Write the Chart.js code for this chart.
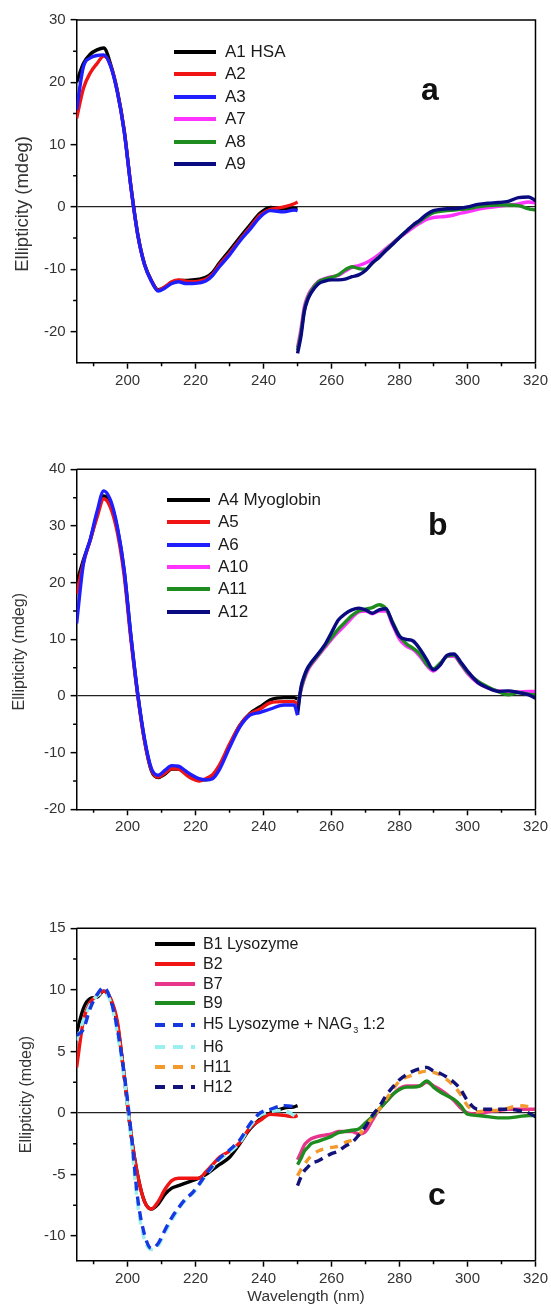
<!DOCTYPE html>
<html><head><meta charset="utf-8">
<script src="https://cdn.jsdelivr.net/npm/chart.js@4"></script>
<style>
html,body{margin:0;padding:0;background:#fff;}
body{width:551px;height:1306px;position:relative;overflow:hidden;font-family:Arial,"Liberation Sans",sans-serif;}
.pane{position:absolute;left:0;width:551px;}
.legend{position:absolute;color:#1a1a1a;}
.row{display:flex;align-items:center;white-space:nowrap;}
.key{height:4px;flex:none;}
.tag{position:absolute;font-weight:bold;font-size:32px;color:#111;line-height:1;}
sub{font-size:9px;vertical-align:-4px;margin-left:1px;}
</style></head><body>
<div class="pane" style="top:0;height:400px"><canvas id="ca" width="551" height="400"></canvas></div>
<div class="pane" style="top:440px;height:400px"><canvas id="cb" width="551" height="400"></canvas></div>
<div class="pane" style="top:900px;height:406px"><canvas id="cc" width="551" height="406"></canvas></div>
<div class="tag" style="left:421px;top:73px">a</div>
<div class="tag" style="left:428px;top:508px">b</div>
<div class="tag" style="left:428px;top:1178px">c</div>
<div id="la" class="legend"></div>
<div id="lb" class="legend"></div>
<div id="lc" class="legend"></div>
<script>
// ---------- data ----------
const wlFar  = [185,187,189,191,193,195,197,199,201,203,205,207,209,211,213,215,217,219,221,223,225,227,230,233,236,239,242,246,249,250];
const wlNear = [250,251,252,253,254,256,258,260,262,264,266,268,270,272,274,276,278,280,282,284,286,288,290,292,294,296,298,300,303,306,309,312,315,318,320];

const xTicks = [200,220,240,260,280,300,320];
const xMinor = [190,210,230,250,270,290,310];
const yTicksA = [-20,-10,0,10,20,30];
const yMinorA = [-15,-5,5,15,25];
const yTicksB = [-20,-10,0,10,20,30,40];
const yMinorB = [-15,-5,5,15,25,35];
const yTicksC = [-10,-5,0,5,10,15];
const yMinorC = [-7.5,-2.5,2.5,7.5,12.5];

// panel a
const labelsA = ['A1 HSA','A2','A3','A7','A8','A9'];
const A1 = [20.0,23.0,24.5,25.2,25.5, 22.9,18.6,12.3,3.2,-4.4, -9.2,-11.8,-13.3,-12.9,-12.1, -11.8,-11.8,-11.7,-11.6,-11.3, -10.5,-9.0,-7.0,-4.9,-2.9, -1.0,-0.1,-0.3,-0.3,-0.3];
const A2 = [14.2,19.0,21.5,23.0,24.2, 22.7,18.5,12.2,3.1,-4.5, -9.3,-11.9,-13.4,-12.8,-12.0, -11.7,-11.9,-12.0,-11.9,-11.6, -10.8,-9.3,-7.4,-5.3,-3.3, -1.3,-0.4,0.0,0.5,0.8];
const A3 = [15.6,22.5,23.9,24.3,24.4, 22.6,18.4,12.1,3.1,-4.5, -9.3,-11.9,-13.5,-13.0,-12.3, -12.0,-12.3,-12.3,-12.2,-11.9, -11.0,-9.6,-7.7,-5.5,-3.6, -1.6,-0.6,-0.8,-0.5,-0.6];
const A7 = [-22.6,-19.6,-16.0,-14.3,-13.3, -12.0,-11.5,-11.2,-11.0,-10.3, -9.7,-9.4,-9.0,-8.4,-7.6, -6.7,-5.8,-4.9,-4.1,-3.3, -2.6,-2.0,-1.7,-1.6,-1.5, -1.3,-1.0,-0.8,-0.4,-0.1, 0.1,0.3,0.5,0.8,0.6];
const A8 = [-23.0,-20.2,-16.5,-14.6,-13.5, -12.1,-11.6,-11.3,-10.9,-10.1, -9.6,-9.9,-10.0,-9.0,-8.0, -6.9,-5.9,-4.9,-3.9,-3.0, -2.3,-1.5,-0.9,-0.7,-0.6, -0.5,-0.4,-0.3,0.0,0.2, 0.3,0.3,0.2,-0.3,-0.5];
const A9 = [-23.5,-20.8,-16.8,-14.9,-13.8, -12.4,-11.9,-11.7,-11.7,-11.6, -11.2,-10.9,-10.2,-9.0,-8.1, -7.0,-6.0,-4.9,-3.9,-2.9, -2.1,-1.2,-0.6,-0.4,-0.3, -0.3,-0.2,0.0,0.4,0.6, 0.7,0.9,1.5,1.6,1.0];

// panel b
const labelsB = ['A4 Myoglobin','A5','A6','A10','A11','A12'];
const A4 = [19.9,24.0,27.5,32.0,35.3, 34.0,29.5,22.0,10.4,0.2, -7.9,-13.2,-14.4,-13.8,-12.9, -12.9,-13.6,-14.3,-14.8,-14.8, -14.3,-12.6,-8.7,-5.2,-3.1, -1.9,-0.7,-0.3,-0.3,-0.5];
const A5 = [18.0,23.5,27.5,31.5,34.8, 33.2,28.8,21.2,9.8,0.0, -8.0,-13.0,-14.3,-13.6,-12.8, -12.9,-13.8,-14.6,-15.0,-14.6, -13.9,-12.2,-8.5,-5.2,-3.2, -2.3,-1.2,-1.0,-1.0,-1.5];
const A6 = [12.8,23.3,27.6,32.5,36.2, 34.5,29.8,22.2,10.5,0.3, -7.6,-12.8,-14.0,-13.1,-12.3, -12.4,-13.2,-14.0,-14.6,-14.8, -14.6,-13.0,-9.1,-5.5,-3.4, -2.9,-2.3,-1.6,-1.6,-3.4];
const A10 = [-2.0,1.0,3.0,4.5,5.5, 7.0,8.5,10.0,11.3,12.5, 13.8,14.8,15.0,14.5,15.0, 15.0,12.5,10.0,8.8,8.2, 7.0,5.4,4.4,5.6,7.0, 7.0,5.6,4.0,2.3,1.4, 0.9,0.8,0.7,0.8,0.8];
const A11 = [-2.5,1.2,3.3,4.8,5.7, 7.2,8.8,10.3,11.8,13.0, 14.2,15.0,15.3,15.6,16.1, 15.4,13.0,10.6,9.2,8.4, 7.4,5.6,4.8,5.8,7.0, 7.2,5.8,4.2,2.6,1.6, 0.8,0.2,0.6,0.3,0.2];
const A12 = [-3.3,1.5,3.6,5.0,5.9, 7.4,9.0,11.2,13.4,14.5, 15.2,15.5,15.2,14.6,15.2, 15.4,12.8,10.5,10.0,9.7, 8.3,6.4,4.6,5.5,7.2, 7.4,6.0,4.4,2.4,1.4, 0.8,0.9,0.6,0.2,-0.4];

// panel c
const labelsC = ['B1 Lysozyme','B2','B7','B9','H5 Lysozyme + NAG\u2083 1:2','H6','H11','H12'];
const B1 = [6.5,8.5,9.3,9.4,9.9, 9.2,7.2,3.0,-1.7,-5.1, -7.2,-7.8,-7.4,-6.6,-6.1, -5.9,-5.7,-5.5,-5.3,-5.0, -4.6,-4.2,-3.6,-2.5,-1.3, -0.5,0.0,0.4,0.5,0.6];
const B2 = [3.7,7.5,9.0,9.5,9.9, 9.3,7.4,3.0,-1.7,-5.1, -7.2,-7.8,-7.2,-6.2,-5.5, -5.3,-5.3,-5.3,-5.3,-4.8, -4.2,-3.6,-3.1,-2.4,-1.2, -0.6,-0.1,-0.2,-0.3,-0.2];
const H5 = [6.3,6.8,8.5,9.6,10.2, 9.2,6.8,3.2,-1.5,-7.0, -9.9,-11.0,-10.6,-9.5,-8.5, -7.7,-7.0,-6.5,-5.8,-5.0, -4.3,-3.7,-3.0,-2.2,-0.9, 0.0,0.3,0.6,0.5,0.4];
const H6 = [5.9,7.5,8.8,9.5,9.8, 9.0,6.5,2.8,-2.0,-7.5, -10.3,-11.1,-10.8,-9.7,-8.7, -7.8,-7.1,-6.6,-5.9,-5.1, -4.4,-3.8,-3.2,-2.4,-1.1, -0.2,0.1,0.2,-0.2,-0.3];
const B7 = [-3.8,-3.2,-2.6,-2.3,-2.1, -1.9,-1.8,-1.7,-1.5,-1.5, -1.5,-1.7,-1.5,-0.6,0.3, 0.9,1.5,2.0,2.2,2.2, 2.2,2.5,2.2,1.9,1.5, 1.0,0.4,0.0,-0.1,0.1, 0.2,0.3,0.3,0.3,0.3];
const B9 = [-4.2,-3.7,-3.1,-2.8,-2.5, -2.3,-2.1,-1.9,-1.6,-1.5, -1.4,-1.3,-0.8,-0.3,0.3, 0.9,1.5,1.9,2.1,2.1, 2.2,2.6,2.1,1.7,1.4, 1.1,0.6,-0.1,-0.2,-0.3, -0.4,-0.4,-0.3,-0.2,-0.2];
const H11 = [-5.1,-4.6,-4.2,-3.8,-3.5, -3.1,-2.9,-2.8,-2.7,-2.4, -2.2,-1.8,-1.1,-0.4,0.3, 1.1,1.9,2.6,2.9,3.1, 3.3,3.4,3.3,3.1,2.7, 2.2,1.5,0.6,0.1,0.2, 0.2,0.4,0.6,0.5,0.3];
const H12 = [-5.9,-5.2,-4.7,-4.4,-4.1, -3.9,-3.6,-3.3,-3.1,-2.7, -2.4,-1.8,-1.1,-0.2,0.5, 1.4,2.1,2.7,3.1,3.4, 3.6,3.7,3.4,3.2,2.9, 2.5,1.9,1.0,0.3,0.3, 0.3,0.3,0.2,0.0,-0.3];

// ---------- helpers ----------
const pts = (xs, ys) => xs.map((x, i) => ({x: x, y: ys[i]}));
function ds(label, xs, ys, color, order, dash) {
  return {label: label, data: pts(xs, ys), borderColor: color, backgroundColor: color,
    borderWidth: 3.4, borderDash: dash || [], pointRadius: 0, fill: false,
    cubicInterpolationMode: 'monotone', order: order};
}

const frameAndMinor = {
  id: 'frameAndMinor',
  afterLayout(chart, args, opts) {
    const s = chart.scales.y;
    if (s && !s._shiftWrapped) {
      const orig = s.drawTitle;
      s.drawTitle = function () {
        const ctx = this.ctx;
        ctx.save(); ctx.translate(0, opts.titleShift || 0);
        orig.apply(this, arguments);
        ctx.restore();
      };
      s._shiftWrapped = true;
    }
  },
  afterDraw(chart, args, opts) {
    const ctx = chart.ctx, xs = chart.scales.x, ys = chart.scales.y, a = chart.chartArea;
    ctx.save();
    ctx.strokeStyle = '#000'; ctx.lineWidth = 1.5;
    ctx.beginPath();
    opts.x.forEach(v => { const p = xs.getPixelForValue(v); ctx.moveTo(p, a.bottom); ctx.lineTo(p, a.bottom + 3.5); });
    opts.y.forEach(v => { const p = ys.getPixelForValue(v); ctx.moveTo(a.left, p); ctx.lineTo(a.left - 3.5, p); });
    ctx.moveTo(a.left, a.top); ctx.lineTo(a.right, a.top); ctx.lineTo(a.right, a.bottom);
    ctx.stroke();
    ctx.restore();
  }
};

function makeChart(id, datasets, c) {
  return new Chart(document.getElementById(id), {
    type: 'line',
    data: {datasets: datasets},
    plugins: [frameAndMinor],
    options: {
      responsive: false, animation: false, devicePixelRatio: 1,
      layout: {padding: {top: c.top, right: 12.7, bottom: 0, left: 0}},
      plugins: {legend: {display: false}, tooltip: {enabled: false},
                frameAndMinor: {x: xMinor, y: c.yMinor, titleShift: c.titleShift}},
      scales: {
        x: {type: 'linear', min: 185, max: 320,
          afterBuildTicks: s => { s.ticks = xTicks.map(v => ({value: v})); },
          afterFit: s => { s.height = c.xH; },
          ticks: {color: '#333', font: {size: 15, family: 'Arial'}, padding: 3, maxRotation: 0, autoSkip: false,
                  callback: v => String(v)},
          grid: {drawOnChartArea: false, drawTicks: true, tickLength: 6, tickColor: '#000', tickWidth: 1.5},
          border: {color: '#000', width: 1.5},
          title: c.xTitle ? {display: true, text: c.xTitle, color: '#333', font: {size: 15.5, family: 'Arial'}, padding: {top: 0, bottom: 0}} : {display: false}
        },
        y: {type: 'linear', min: c.yMin, max: c.yMax,
          afterBuildTicks: s => { s.ticks = c.yTicks.map(v => ({value: v})); },
          afterFit: s => { s.width = 76.6; },
          ticks: {color: '#333', font: {size: 15, family: 'Arial'}, padding: 5, autoSkip: false,
                  callback: v => String(v)},
          grid: {drawOnChartArea: true, drawTicks: true, tickLength: 6, tickColor: '#000', tickWidth: 1.5,
                 color: ctx => (ctx.tick && ctx.tick.value === 0) ? '#222' : 'rgba(0,0,0,0)', lineWidth: 1.3},
          border: {color: '#000', width: 1.5},
          title: {display: true, text: 'Ellipticity (mdeg)', color: '#333', font: {size: c.ytSize, family: 'Arial'},
                  padding: {top: c.ytPad, bottom: 0}}
        }
      }
    }
  });
}

function htmlLegend(elId, chart, pos) {
  const el = document.getElementById(elId);
  el.style.left = pos.left + 'px'; el.style.top = pos.top + 'px';
  el.style.fontSize = pos.font + 'px';
  chart.data.datasets.forEach((d, i) => {
    const row = document.createElement('div');
    row.className = 'row';
    row.style.height = (pos.rowH[i] || pos.rowH[0]) + 'px';
    const key = document.createElement('span');
    key.className = 'key';
    key.style.width = pos.keyW + 'px';
    key.style.marginRight = pos.gap + 'px';
    if (d.borderDash && d.borderDash.length) {
      key.style.background = 'repeating-linear-gradient(90deg,' + d.borderColor + ' 0 10px, transparent 10px 18px)';
    } else {
      key.style.background = d.borderColor;
    }
    const txt = document.createElement('span');
    txt.innerHTML = d.label.replace('\u2083', '<sub>3</sub>');
    row.appendChild(key); row.appendChild(txt);
    el.appendChild(row);
  });
}

// ---------- charts ----------
const chartA = makeChart('ca', [
  ds(labelsA[0], wlFar, A1, '#000000', 3),
  ds(labelsA[1], wlFar, A2, '#f01414', 2),
  ds(labelsA[2], wlFar, A3, '#1e1eff', 1),
  ds(labelsA[3], wlNear, A7, '#ff33ff', 3),
  ds(labelsA[4], wlNear, A8, '#1e8c1e', 2),
  ds(labelsA[5], wlNear, A9, '#0a0a80', 1)
], {top: 20, xH: 37.3, yMin: -25, yMax: 30, yTicks: yTicksA, yMinor: yMinorA, ytPad: 11.4, ytSize: 18.5, titleShift: 12.6});

const chartB = makeChart('cb', [
  ds(labelsB[0], wlFar, A4, '#000000', 3),
  ds(labelsB[1], wlFar, A5, '#f01414', 2),
  ds(labelsB[2], wlFar, A6, '#1e1eff', 1),
  ds(labelsB[3], wlNear, A10, '#ff33ff', 3),
  ds(labelsB[4], wlNear, A11, '#1e8c1e', 2),
  ds(labelsB[5], wlNear, A12, '#0a0a80', 1)
], {top: 29.3, xH: 30.7, yMin: -20, yMax: 40, yTicks: yTicksB, yMinor: yMinorB, ytPad: 10.4, ytSize: 16, titleShift: 12.4});

const chartC = makeChart('cc', [
  ds(labelsC[0], wlFar, B1, '#000000', 4),
  ds(labelsC[1], wlFar, B2, '#f01414', 3),
  ds(labelsC[2], wlNear, B7, '#e8358c', 4),
  ds(labelsC[3], wlNear, B9, '#1e8c1e', 3),
  ds(labelsC[4], wlFar, H5, '#1538e0', 1, [9, 6]),
  ds(labelsC[5], wlFar, H6, '#9af0f0', 2, [9, 6]),
  ds(labelsC[6], wlNear, H11, '#f39a2a', 2, [8, 7]),
  ds(labelsC[7], wlNear, H12, '#12127a', 1, [9, 6])
], {top: 28.3, xH: 45.3, yMin: -12, yMax: 15, yTicks: yTicksC, yMinor: yMinorC, ytPad: 17.4, ytSize: 16, titleShift: 0, xTitle: 'Wavelength (nm)'});

htmlLegend('la', chartA, {left: 174, top: 40.4, font: 17, rowH: [22.5], keyW: 42, gap: 9});
htmlLegend('lb', chartB, {left: 167, top: 488.9, font: 17, rowH: [22.3], keyW: 43, gap: 8});
htmlLegend('lc', chartC, {left: 155, top: 934.1, font: 16, rowH: [19.8,19.8,19.8,19.8,24,19.8,19.8,19.8], keyW: 40, gap: 8});
</script>
</body></html>
